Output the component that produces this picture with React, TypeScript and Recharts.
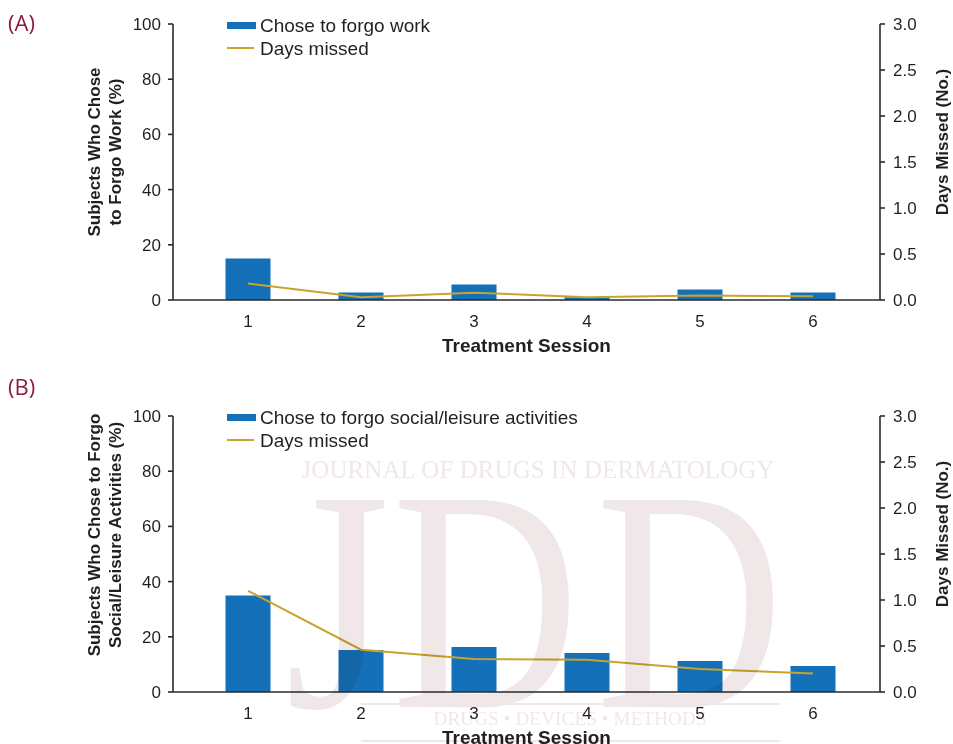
import React from 'react';
import { ComposedChart, Bar, Line, XAxis, YAxis, Legend } from 'recharts';

// Treatment sessions and the two outcome measures per panel
const sessions = ['1', '2', '3', '4', '5', '6'];

const workForgone = [15, 2.7, 5.6, 1, 3.8, 2.7];
const workDaysMissed = [0.18, 0.03, 0.08, 0.03, 0.05, 0.04];

const leisureForgone = [35, 15.2, 16.3, 14.1, 11.2, 9.4];
const leisureDaysMissed = [1.1, 0.46, 0.36, 0.35, 0.25, 0.2];

const percentTicks = [0, 20, 40, 60, 80, 100];
const dayTicks = [0, 0.5, 1, 1.5, 2, 2.5, 3];

const BAR = '#1471b9';
const LINE = '#c9a42c';
const INK = '#231f20';
const AXIS = '#2b2b2b';
const FONT = '"Liberation Sans", Arial, sans-serif';
const MARK = '#f0e8e8';

const toRows = (share: number[], days: number[]) =>
  sessions.map((session, i) => ({ session, share: share[i], days: days[i] }));

const workRows = toRows(workForgone, workDaysMissed);
const leisureRows = toRows(leisureForgone, leisureDaysMissed);

const legendContent = (barLabel: string) => () => (
  <svg width={420} height={60} style={{ display: 'block', overflow: 'visible' }}>
    <rect x={0} y={12} width={29} height={7} fill={BAR} />
    <text x={33} y={22} fontSize={19} fill={INK} fontFamily={FONT}>{barLabel}</text>
    <line x1={0} x2={27} y1={38} y2={38} stroke={LINE} strokeWidth={2} />
    <text x={33} y={45} fontSize={19} fill={INK} fontFamily={FONT}>Days missed</text>
  </svg>
);

const rotatedTitle = (lines: string[], baselines: number[], cy: number) => () => (
  <text
    transform={`translate(0, ${cy}) rotate(-90)`}
    textAnchor="middle"
    fontSize={17}
    fontWeight="bold"
    fill={INK}
    fontFamily={FONT}
  >
    {lines.map((l, i) => (
      <tspan key={i} x={0} y={baselines[i]}>{l}</tspan>
    ))}
  </text>
);

const xTitle = () => (
  <text x={526.5} y={352} textAnchor="middle" fontSize={19} fontWeight="bold" fill={INK} fontFamily={FONT}>
    Treatment Session
  </text>
);

type PanelProps = {
  rows: { session: string; share: number; days: number }[];
  barLabel: string;
  titleLines: string[];
  titleCenter: number;
};

const Panel = ({ rows, barLabel, titleLines, titleCenter }: PanelProps) => (
  <ComposedChart width={953} height={360} data={rows} margin={{ top: 24, right: 0, bottom: 0, left: 0 }}>
    <XAxis
      dataKey="session"
      padding={{ left: 18.5, right: 10.5 }}
      tickLine={false}
      tickSize={6}
      tickMargin={9}
      height={60}
      interval={0}
      axisLine={{ stroke: AXIS, strokeWidth: 1.6 }}
      tick={{ fontSize: 17, fill: INK, fontFamily: FONT }}
      label={{ content: xTitle }}
    />
    <YAxis
      yAxisId="left"
      domain={[0, 100]}
      ticks={percentTicks}
      interval={0}
      width={173}
      tickSize={5}
      tickMargin={7}
      axisLine={{ stroke: AXIS, strokeWidth: 1.6 }}
      tickLine={{ stroke: AXIS, strokeWidth: 1.6 }}
      tick={{ fontSize: 17, fill: INK, fontFamily: FONT }}
      label={{ content: rotatedTitle(titleLines, [99.5, 120.5], titleCenter) }}
    />
    <YAxis
      yAxisId="right"
      orientation="right"
      domain={[0, 3]}
      ticks={dayTicks}
      interval={0}
      width={73}
      tickSize={5}
      tickMargin={8}
      tickFormatter={(v: number) => v.toFixed(1)}
      axisLine={{ stroke: AXIS, strokeWidth: 1.6 }}
      tickLine={{ stroke: AXIS, strokeWidth: 1.6 }}
      tick={{ fontSize: 17, fill: INK, fontFamily: FONT }}
      label={{ content: rotatedTitle(['Days Missed (No.)'], [948], 142) }}
    />
    <Legend
      layout="horizontal"
      verticalAlign="middle"
      align="center"
      content={legendContent(barLabel)}
      wrapperStyle={{ top: 10, left: 227, width: 420, height: 60 }}
    />
    <Bar yAxisId="left" dataKey="share" fill={BAR} barSize={45} isAnimationActive={false} />
    <Line
      yAxisId="right"
      dataKey="days"
      type="linear"
      stroke={LINE}
      strokeWidth={2}
      dot={false}
      activeDot={false}
      isAnimationActive={false}
    />
  </ComposedChart>
);

export default function App() {
  return (
    <div style={{ position: 'absolute', top: 0, left: 0, width: 953, height: 744, background: '#fff', overflow: 'hidden' }}>
      <div style={{ position: 'absolute', top: 0, left: 0 }}>
        <Panel
          rows={workRows}
          barLabel="Chose to forgo work"
          titleLines={['Subjects Who Chose', 'to Forgo Work (%)']}
          titleCenter={152}
        />
      </div>
      <div style={{ position: 'absolute', top: 392, left: 0 }}>
        <Panel
          rows={leisureRows}
          barLabel="Chose to forgo social/leisure activities"
          titleLines={['Subjects Who Chose to Forgo', 'Social/Leisure Activities (%)']}
          titleCenter={143}
        />
      </div>
      {/* panel letters and the journal watermark */}
      <svg
        width={953}
        height={744}
        style={{ position: 'absolute', top: 0, left: 0, pointerEvents: 'none', mixBlendMode: 'multiply' }}
      >
        <text x={8} y={31} fontSize={22} fill="#8c1d40" fontFamily='"Open Sans", sans-serif'>(A)</text>
        <text x={8} y={395} fontSize={22} fill="#8c1d40" fontFamily='"Open Sans", sans-serif'>(B)</text>
        <g fill={MARK} fontFamily='"Liberation Serif", serif'>
          <text x={538} y={478} fontSize={25} textAnchor="middle" textLength={473} lengthAdjust="spacing">
            JOURNAL OF DRUGS IN DERMATOLOGY
          </text>
          <text transform="translate(285, 707) scale(0.85, 1)" fontSize={316}>J</text>
          <text transform="translate(392, 707) scale(0.82, 1)" fontSize={316}>D</text>
          <text transform="translate(596, 707) scale(0.82, 1)" fontSize={316}>D</text>
          <line x1={361} x2={780} y1={704} y2={704} stroke={MARK} strokeWidth={2} />
          <line x1={361} x2={780} y1={741} y2={741} stroke={MARK} strokeWidth={2} />
          <text x={570} y={725} fontSize={19} textAnchor="middle" textLength={273} lengthAdjust="spacing">
            DRUGS • DEVICES • METHODS
          </text>
        </g>
      </svg>
    </div>
  );
}
